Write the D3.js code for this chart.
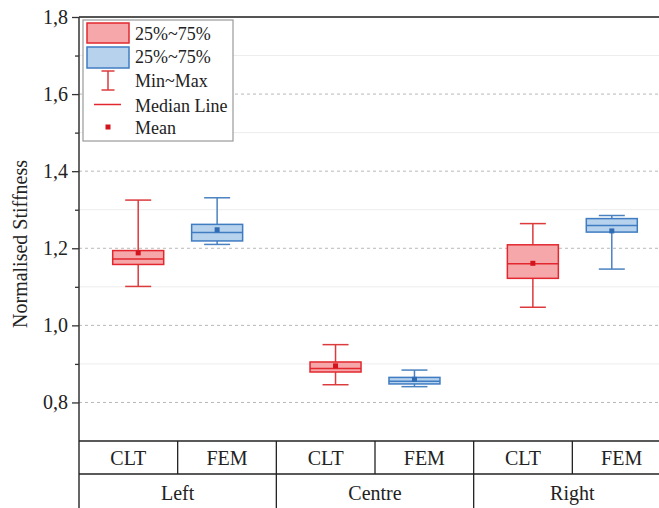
<!DOCTYPE html>
<html>
<head>
<meta charset="utf-8">
<script src="https://cdn.jsdelivr.net/npm/d3@7"></script>
<style>
  body { margin: 0; background: #fff; }
  svg { display: block; }
  svg text { font-family: "Liberation Serif", "Times New Roman", serif; }
</style>
</head>
<body>
<div id="chart"></div>
<script>
// data (order: Left CLT, Left FEM, Centre CLT, Centre FEM, Right CLT, Right FEM)
const groups = ["Left", "Centre", "Right"];
const series = ["CLT", "FEM"];
const minVals  = [1.101, 1.210, 0.846, 0.841, 1.047, 1.146];
const q1Vals   = [1.158, 1.219, 0.879, 0.848, 1.122, 1.242];
const medVals  = [1.172, 1.241, 0.888, 0.855, 1.160, 1.259];
const meanVals = [1.188, 1.248, 0.895, 0.860, 1.161, 1.245];
const q3Vals   = [1.194, 1.262, 0.905, 0.865, 1.209, 1.277];
const maxVals  = [1.325, 1.331, 0.950, 0.884, 1.264, 1.285];
const majorTicks = [0.8, 1.0, 1.2, 1.4, 1.6, 1.8];
const minorTicks = [0.9, 1.1, 1.3, 1.5, 1.7];

const W = 659, H = 508;
const plotLeft = 79, plotRight = 671, plotTop = 17, plotBottom = 441;
const row1 = 474;
const serif = "Liberation Serif";

const colors = {
    CLT: {stroke: "#e2282e", fill: "#f6a7aa", whisker: "#dd3a3c", mean: "#d4141c"},
    FEM: {stroke: "#3f7cc2", fill: "#b7d2ec", whisker: "#4a82c0", mean: "#2f6cb3"}
};

const boxes = [];
groups.forEach((g, gi) => series.forEach((s, si) => {
    let i = gi * series.length + si;
    boxes.push({group: g, series: s, min: minVals[i], q1: q1Vals[i], med: medVals[i],
        mean: meanVals[i], q3: q3Vals[i], max: maxVals[i]});
}));

const svg = d3.select("#chart").append("svg")
    .attr("width", W)
    .attr("height", H)
    .attr("font-family", serif);

const y = d3.scaleLinear().domain([0.7, 1.8]).range([plotBottom, plotTop]);
const xGroup = d3.scaleBand().domain(groups).range([plotLeft, plotRight]);
const xSub = d3.scalePoint().domain(series).range([0, xGroup.bandwidth()]).padding(0.75);
const cx = d => xGroup(d.group) + xSub(d.series);

// grid lines
svg.append("g").selectAll("line.minor")
    .data(minorTicks).enter().append("line")
    .attr("x1", plotLeft).attr("x2", plotRight)
    .attr("y1", d => y(d)).attr("y2", d => y(d))
    .attr("stroke", "#ececec").attr("stroke-width", 1);

svg.append("g").selectAll("line.major")
    .data(majorTicks.filter(d => d < 1.8)).enter().append("line")
    .attr("x1", plotLeft).attr("x2", plotRight)
    .attr("y1", d => y(d)).attr("y2", d => y(d))
    .attr("stroke", "#b8b8b8").attr("stroke-width", 1)
    .attr("stroke-dasharray", "3,3");

// y axis
const yAxis = d3.axisLeft(y).tickValues(majorTicks).tickSize(7).tickPadding(4)
    .tickFormat(d => d3.format(".1f")(d).replace(".", ","));
const gy = svg.append("g")
    .attr("transform", `translate(${plotLeft},0)`)
    .call(yAxis)
    .attr("font-family", serif)
    .attr("font-size", 20);
gy.select(".domain").remove();
gy.selectAll(".tick line").attr("stroke", "#333").attr("stroke-width", 1.3);
gy.selectAll(".tick text").attr("fill", "#222");

const gyMinor = svg.append("g")
    .attr("transform", `translate(${plotLeft},0)`)
    .call(d3.axisLeft(y).tickValues(minorTicks).tickSize(4).tickFormat(""));
gyMinor.select(".domain").remove();
gyMinor.selectAll(".tick line").attr("stroke", "#333").attr("stroke-width", 1.3);

svg.append("text")
    .attr("transform", `translate(27,${(plotTop + plotBottom) / 2 + 15}) rotate(-90)`)
    .attr("text-anchor", "middle")
    .attr("font-size", 20)
    .attr("fill", "#222")
    .text("Normalised Stiffness");

// frame
svg.append("line").attr("x1", plotLeft).attr("x2", plotRight).attr("y1", plotTop).attr("y2", plotTop)
    .attr("stroke", "#555").attr("stroke-width", 2);
svg.append("line").attr("x1", plotLeft).attr("x2", plotLeft).attr("y1", plotTop).attr("y2", H)
    .attr("stroke", "#333").attr("stroke-width", 1.5);

// boxes
const boxW = 51, capW = 26;
const bx = svg.append("g").selectAll("g.box")
    .data(boxes).enter().append("g").attr("class", "box");

bx.append("line")
    .attr("x1", cx).attr("x2", cx)
    .attr("y1", d => y(d.max)).attr("y2", d => y(d.q3))
    .attr("stroke", d => colors[d.series].whisker).attr("stroke-width", 1.5);
bx.append("line")
    .attr("x1", cx).attr("x2", cx)
    .attr("y1", d => y(d.q1)).attr("y2", d => y(d.min))
    .attr("stroke", d => colors[d.series].whisker).attr("stroke-width", 1.5);
["max", "min"].forEach(k => {
    bx.append("line")
        .attr("x1", d => cx(d) - capW / 2).attr("x2", d => cx(d) + capW / 2)
        .attr("y1", d => y(d[k])).attr("y2", d => y(d[k]))
        .attr("stroke", d => colors[d.series].whisker).attr("stroke-width", 1.5);
});
bx.append("rect")
    .attr("x", d => cx(d) - boxW / 2)
    .attr("width", boxW)
    .attr("y", d => y(d.q3))
    .attr("height", d => y(d.q1) - y(d.q3))
    .attr("fill", d => colors[d.series].fill)
    .attr("stroke", d => colors[d.series].stroke)
    .attr("stroke-width", 1.5);
bx.append("line")
    .attr("x1", d => cx(d) - boxW / 2).attr("x2", d => cx(d) + boxW / 2)
    .attr("y1", d => y(d.med)).attr("y2", d => y(d.med))
    .attr("stroke", d => colors[d.series].stroke).attr("stroke-width", 1.5);
bx.append("rect")
    .attr("x", d => cx(d) - 2.5).attr("y", d => y(d.mean) - 2.5)
    .attr("width", 5).attr("height", 5)
    .attr("fill", d => colors[d.series].mean);

// category table below the plot
const table = svg.append("g");
table.append("line").attr("x1", plotLeft).attr("x2", plotRight).attr("y1", plotBottom).attr("y2", plotBottom)
    .attr("stroke", "#222").attr("stroke-width", 1.5);
table.append("line").attr("x1", plotLeft).attr("x2", plotRight).attr("y1", row1).attr("y2", row1)
    .attr("stroke", "#222").attr("stroke-width", 1.5);

const half = xGroup.bandwidth() / 2;
groups.forEach(g => {
    // divider between the series cells
    table.append("line")
        .attr("x1", xGroup(g) + half).attr("x2", xGroup(g) + half)
        .attr("y1", plotBottom).attr("y2", row1)
        .attr("stroke", "#222").attr("stroke-width", 1.3);
    // group divider
    table.append("line")
        .attr("x1", xGroup(g) + xGroup.bandwidth()).attr("x2", xGroup(g) + xGroup.bandwidth())
        .attr("y1", plotBottom).attr("y2", H)
        .attr("stroke", "#222").attr("stroke-width", 1.3);
    series.forEach((s, si) => {
        table.append("text")
            .attr("x", xGroup(g) + half * si + half / 2)
            .attr("y", (plotBottom + row1) / 2 + 7)
            .attr("text-anchor", "middle")
            .attr("font-size", 20)
            .attr("fill", "#222")
            .text(s);
    });
    table.append("text")
        .attr("x", xGroup(g) + half)
        .attr("y", 500)
        .attr("text-anchor", "middle")
        .attr("font-size", 20)
        .attr("fill", "#222")
        .text(g);
});

// legend
const legend = svg.append("g").attr("transform", "translate(83,20)");
legend.append("rect")
    .attr("width", 150).attr("height", 121)
    .attr("fill", "#fff").attr("stroke", "#9a9a9a").attr("stroke-width", 1.2);

legend.append("rect").attr("x", 4).attr("y", 3).attr("width", 42).attr("height", 20)
    .attr("fill", colors.CLT.fill).attr("stroke", colors.CLT.stroke).attr("stroke-width", 1.5);
legend.append("rect").attr("x", 4).attr("y", 27).attr("width", 42).attr("height", 21)
    .attr("fill", colors.FEM.fill).attr("stroke", colors.FEM.stroke).attr("stroke-width", 1.5);

const wc = colors.CLT.whisker;
legend.append("line").attr("x1", 25).attr("x2", 25).attr("y1", 51).attr("y2", 70)
    .attr("stroke", wc).attr("stroke-width", 1.5);
legend.append("line").attr("x1", 18.5).attr("x2", 31.5).attr("y1", 51).attr("y2", 51)
    .attr("stroke", wc).attr("stroke-width", 1.5);
legend.append("line").attr("x1", 18.5).attr("x2", 31.5).attr("y1", 70).attr("y2", 70)
    .attr("stroke", wc).attr("stroke-width", 1.5);
legend.append("line").attr("x1", 11).attr("x2", 38).attr("y1", 84.5).attr("y2", 84.5)
    .attr("stroke", colors.CLT.stroke).attr("stroke-width", 1.5);
legend.append("rect").attr("x", 22.5).attr("y", 104.5).attr("width", 5).attr("height", 5)
    .attr("fill", colors.CLT.mean);

const legendLabels = ["25%~75%", "25%~75%", "Min~Max", "Median Line", "Mean"];
const legendY = [20, 43, 67, 92, 114];
legend.selectAll("text.lab")
    .data(legendLabels).enter().append("text")
    .attr("x", 52)
    .attr("y", (d, i) => legendY[i])
    .attr("font-size", 18)
    .attr("fill", "#222")
    .text(d => d);
</script>
</body>
</html>
